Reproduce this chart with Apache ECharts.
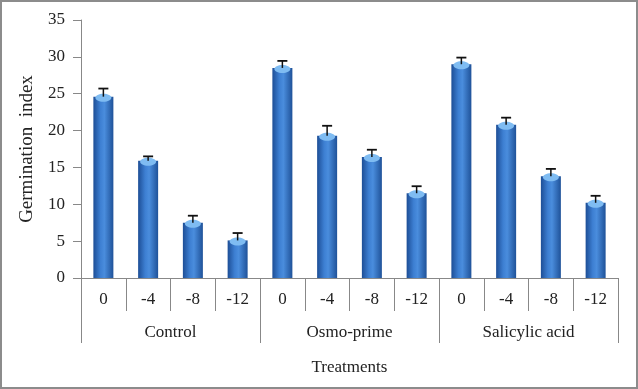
<!DOCTYPE html>
<html>
<head>
<meta charset="utf-8">
<script src="https://cdn.jsdelivr.net/npm/echarts@6/dist/echarts.min.js"></script>
<style>
  html, body { margin: 0; padding: 0; background: #fff; }
  #chart { width: 638px; height: 389px; box-sizing: border-box; border: 2px solid #8c8c8c; }
</style>
</head>
<body>
<div id="chart"></div>
<script>
// levels (inner axis) and treatments (outer axis)
const levels = ['0', '-4', '-8', '-12', '0', '-4', '-8', '-12', '0', '-4', '-8', '-12'];
const treatments = ['Control', 'Osmo-prime', 'Salicylic acid'];
const germIndex = [24.6, 15.9, 7.5, 5.1, 28.5, 19.3, 16.4, 11.5, 29.0, 20.8, 13.8, 10.2];
const errors = [1.1, 0.6, 0.95, 1.0, 0.95, 1.35, 1.0, 0.95, 0.9, 0.95, 1.0, 0.95];
const yTicks = [0, 35, 5]; // min, max, step

const font = 'Liberation Serif';
const chart = echarts.init(document.getElementById('chart'));

const errData = germIndex.map((v, i) => [i, v, errors[i]]);

const option = {
    animation: false,
    textStyle: { fontFamily: font, color: '#222' },
    grid: { left: 79, right: 18, top: 18, bottom: 109 },
    xAxis: [
        {
            type: 'category',
            data: levels,
            axisLine: { lineStyle: { color: '#888' } },
            axisTick: { show: true, interval: 0, length: 33, lineStyle: { color: '#888' } },
            axisLabel: { interval: 0, margin: 13, fontSize: 17, fontFamily: font, color: '#222' }
        },
        {
            type: 'category',
            data: treatments,
            position: 'bottom',
            axisLine: { show: false },
            axisTick: { show: true, interval: 0, length: 65, lineStyle: { color: '#888' } },
            axisLabel: { interval: 0, margin: 46, fontSize: 17, fontFamily: font, color: '#222' },
            name: 'Treatments',
            nameLocation: 'middle',
            nameGap: 81,
            nameTextStyle: { fontSize: 17, fontFamily: font, color: '#222' }
        }
    ],
    yAxis: {
        type: 'value',
        min: yTicks[0],
        max: yTicks[1],
        interval: yTicks[2],
        splitLine: { show: false },
        axisLine: { show: true, lineStyle: { color: '#888' } },
        axisTick: { show: true, length: 8, lineStyle: { color: '#888' } },
        axisLabel: { fontSize: 17, margin: 16, fontFamily: font, color: '#222' },
        name: 'Germination  index',
        nameLocation: 'middle',
        nameGap: 44,
        nameTextStyle: { fontSize: 19, fontFamily: font, color: '#222' }
    },
    series: [
        {
            type: 'bar',
            data: germIndex,
            barWidth: 20,
            itemStyle: {
                color: new echarts.graphic.LinearGradient(0, 0, 1, 0, [
                    { offset: 0, color: '#1d4e96' },
                    { offset: 0.35, color: '#3d7fd2' },
                    { offset: 0.55, color: '#4a8ddd' },
                    { offset: 1, color: '#1f5299' }
                ])
            }
        },
        {
            type: 'custom',
            data: errData,
            encode: { x: 0, y: [1] },
            z: 5,
            renderItem: function (params, api) {
                const x = api.value(0);
                const v = api.value(1);
                const e = api.value(2);
                const base = api.coord([x, v]);
                const top = api.coord([x, v + e]);
                return {
                    type: 'group',
                    children: [
                        {
                            type: 'ellipse',
                            shape: { cx: base[0], cy: base[1] + 1, rx: 8, ry: 4 },
                            style: { fill: '#7fbcf2' }
                        },
                        {
                            type: 'line',
                            shape: { x1: top[0], y1: top[1], x2: base[0], y2: base[1] },
                            style: { stroke: '#111', lineWidth: 1.5 }
                        },
                        {
                            type: 'line',
                            shape: { x1: top[0] - 5, y1: top[1], x2: top[0] + 5, y2: top[1] },
                            style: { stroke: '#111', lineWidth: 1.8 }
                        }
                    ]
                };
            }
        }
    ]
};

chart.setOption(option);
</script>
</body>
</html>
